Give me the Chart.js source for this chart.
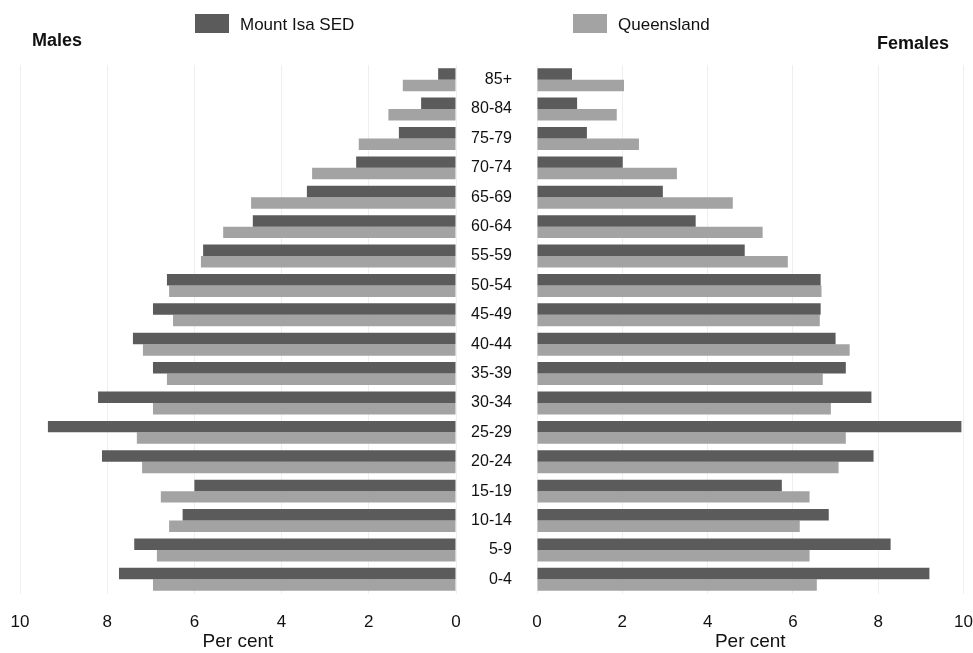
<!DOCTYPE html>
<html>
<head>
<meta charset="utf-8">
<script src="https://cdn.jsdelivr.net/npm/chart.js@4"></script>
<style>
  body { margin: 0; background: #fff; font-family: "Liberation Sans", Arial, sans-serif; }
  #page { position: relative; width: 973px; height: 653px; overflow: hidden; }
  .box { position: absolute; }
  .lab { position: absolute; color: #111; white-space: nowrap; }
  .sw { position: absolute; width: 34px; height: 19px; }
</style>
</head>
<body>
<div id="page">
  <div class="box" style="left:0;top:0;width:476px;height:653px"><canvas id="males"></canvas></div>
  <div class="box" style="left:470px;top:0;width:521px;height:653px"><canvas id="females"></canvas></div>

  <div class="sw" id="sw0" style="left:195px;top:14px"></div>
  <div class="lab" id="lg0" style="left:240px;top:15px;font-size:17px"></div>
  <div class="sw" id="sw1" style="left:573px;top:14px"></div>
  <div class="lab" id="lg1" style="left:618px;top:15px;font-size:17px"></div>
  <div class="lab" style="left:32px;top:30px;font-size:18px;font-weight:bold">Males</div>
  <div class="lab" style="left:877px;top:33px;font-size:18px;font-weight:bold">Females</div>
</div>
<script>
// age groups, top to bottom
const ageGroups = ['85+', '80-84', '75-79', '70-74', '65-69', '60-64', '55-59', '50-54', '45-49',
                   '40-44', '35-39', '30-34', '25-29', '20-24', '15-19', '10-14', '5-9', '0-4'];
const seriesNames = ['Mount Isa SED', 'Queensland'];

// per cent of population
const maleIsa = [0.41, 0.80, 1.31, 2.29, 3.42, 4.66, 5.80, 6.63, 6.95, 7.41, 6.95, 8.21, 9.36, 8.12, 6.00, 6.27, 7.38, 7.73];
const maleQld = [1.22, 1.55, 2.23, 3.30, 4.70, 5.34, 5.85, 6.58, 6.49, 7.18, 6.63, 6.95, 7.32, 7.20, 6.77, 6.58, 6.86, 6.95];
const femIsa  = [0.82, 0.94, 1.17, 2.01, 2.95, 3.72, 4.87, 6.65, 6.65, 7.00, 7.24, 7.84, 9.95, 7.89, 5.74, 6.84, 8.29, 9.20];
const femQld  = [2.04, 1.87, 2.39, 3.28, 4.59, 5.29, 5.88, 6.67, 6.63, 7.33, 6.70, 6.89, 7.24, 7.07, 6.39, 6.16, 6.39, 6.56];

const xTicks = [0, 2, 4, 6, 8, 10];

const darkGrey = '#5b5b5b';
const lightGrey = '#a3a3a3';
const font = 'Liberation Sans, Arial, sans-serif';

// legend outside the canvases
document.getElementById('sw0').style.background = darkGrey;
document.getElementById('sw1').style.background = lightGrey;
document.getElementById('lg0').textContent = seriesNames[0];
document.getElementById('lg1').textContent = seriesNames[1];

function makeDatasets(isa, qld) {
    return [
        { label: seriesNames[0], data: isa, backgroundColor: darkGrey,
          categoryPercentage: 0.78, barPercentage: 1.0 },
        { label: seriesNames[1], data: qld, backgroundColor: lightGrey,
          categoryPercentage: 0.78, barPercentage: 1.0 }
    ];
}

function xAxis(reverse) {
    return {
        min: 0, max: 10, reverse: reverse,
        afterBuildTicks: (s) => { s.ticks = xTicks.map(v => ({ value: v })); },
        afterFit: (s) => { s.height = 59; },
        grid: { color: '#efefef', drawTicks: false },
        border: { display: false },
        ticks: { padding: 18, color: '#111', font: { family: font, size: 17 } },
        title: { display: true, text: 'Per cent', color: '#111',
                 font: { family: font, size: 19 }, padding: { top: 0, bottom: 0 } }
    };
}

Chart.defaults.animation = false;

new Chart(document.getElementById('males'), {
    type: 'bar',
    data: { labels: ageGroups, datasets: makeDatasets(maleIsa, maleQld) },
    options: {
        indexAxis: 'y',
        responsive: true,
        maintainAspectRatio: false,
        layout: { padding: { left: 20, right: 20, top: 65, bottom: 0 } },
        plugins: { legend: { display: false } },
        scales: {
            x: xAxis(true),
            y: { display: false }
        }
    }
});

new Chart(document.getElementById('females'), {
    type: 'bar',
    data: { labels: ageGroups, datasets: makeDatasets(femIsa, femQld) },
    options: {
        indexAxis: 'y',
        responsive: true,
        maintainAspectRatio: false,
        layout: { padding: { left: 0, right: 11, top: 65, bottom: 0 } },
        plugins: { legend: { display: false } },
        scales: {
            x: xAxis(false),
            y: {
                afterFit: (s) => { s.width = 67; },
                grid: { display: false },
                border: { display: false },
                ticks: { padding: 17, color: '#111', font: { family: font, size: 16 } }
            }
        }
    }
});
</script>
</body>
</html>
